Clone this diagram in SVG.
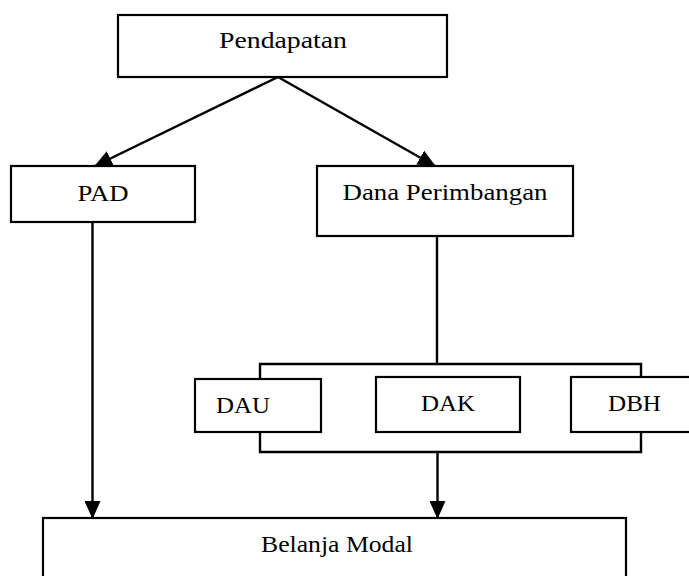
<svg xmlns="http://www.w3.org/2000/svg" width="689" height="576" viewBox="0 0 689 576">
<style>
.box{fill:#fff;stroke:#000;stroke-width:2.2}
.ln{fill:none;stroke:#000;stroke-width:2.4}
.t{font-family:"Liberation Serif","Times New Roman",serif;font-size:24px;fill:#000;text-anchor:middle}
</style>
<defs>
<marker id="ah" markerUnits="userSpaceOnUse" markerWidth="18" markerHeight="16" viewBox="0 0 18 16" refX="17" refY="8" orient="auto">
<path d="M0,0 L18,8 L0,16 Z" fill="#000"/>
</marker>
</defs>
<rect width="689" height="576" fill="#fff"/>
<g id="connectors">
<line class="ln" x1="278" y1="77" x2="95" y2="166" marker-end="url(#ah)"/>
<line class="ln" x1="278" y1="77" x2="435" y2="166" marker-end="url(#ah)"/>
<line class="ln" x1="437" y1="236" x2="437" y2="364"/>
<polyline class="ln" points="260,379 260,364 641,364 641,377"/>
<polyline class="ln" points="260,432 260,452 641,452 641,432"/>
<line class="ln" x1="92.5" y1="222" x2="92.5" y2="518" marker-end="url(#ah)"/>
<line class="ln" x1="437.5" y1="452" x2="437.5" y2="518" marker-end="url(#ah)"/>
</g>
<g id="pendapatan">
<rect class="box" x="118" y="15" width="329" height="62"/>
<text class="t" x="283" y="48" textLength="128" lengthAdjust="spacingAndGlyphs">Pendapatan</text>
</g>
<g id="pad">
<rect class="box" x="11" y="166" width="184" height="56"/>
<text class="t" x="103" y="201" textLength="51" lengthAdjust="spacingAndGlyphs">PAD</text>
</g>
<g id="dana-perimbangan">
<rect class="box" x="317" y="166" width="256" height="70"/>
<text class="t" x="445" y="200" textLength="205" lengthAdjust="spacingAndGlyphs">Dana Perimbangan</text>
</g>
<g id="dau">
<rect class="box" x="195" y="379" width="126" height="53"/>
<text class="t" x="243" y="413" textLength="54" lengthAdjust="spacingAndGlyphs">DAU</text>
</g>
<g id="dak">
<rect class="box" x="376" y="377" width="144" height="55"/>
<text class="t" x="448" y="411" textLength="54" lengthAdjust="spacingAndGlyphs">DAK</text>
</g>
<g id="dbh">
<rect class="box" x="571" y="377" width="130" height="55"/>
<text class="t" x="634.5" y="411" textLength="53" lengthAdjust="spacingAndGlyphs">DBH</text>
</g>
<g id="belanja-modal">
<rect class="box" x="43" y="518" width="583" height="70"/>
<text class="t" x="337" y="552" textLength="152" lengthAdjust="spacingAndGlyphs">Belanja Modal</text>
</g>
</svg>
